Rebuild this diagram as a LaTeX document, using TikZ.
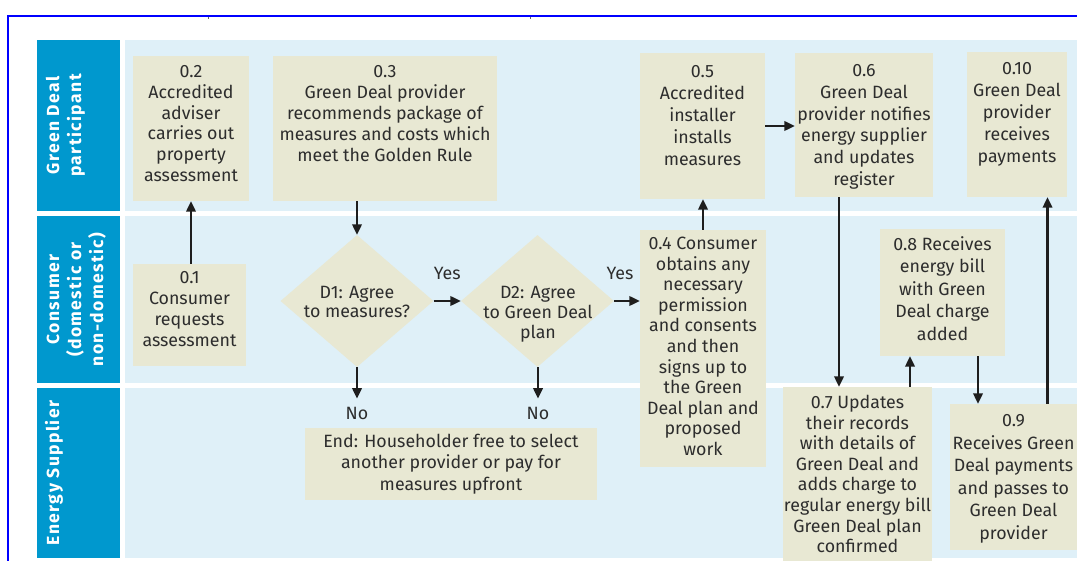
\documentclass[tikz,border=0pt]{standalone}
\usepackage{fontspec}
\setmainfont{Fira Sans}
\newfontfamily\lanefont[LetterSpace=8]{Fira Sans}
\usetikzlibrary{arrows.meta,shapes.geometric}
\definecolor{laneblue}{RGB}{0,152,206}
\definecolor{lanebg}{RGB}{223,240,248}
\definecolor{boxc}{RGB}{232,232,211}
\definecolor{txt}{RGB}{45,45,45}
\definecolor{arrc}{RGB}{30,30,30}
\definecolor{frameblue}{RGB}{0,0,255}
\newcommand\bxt[4]{\parbox[c][#2pt][t]{#1pt}{\centering\rule{0pt}{#3pt}#4}}
\newcommand\fs[1]{\fontsize{17.8}{#1}\selectfont}
\begin{document}
\begin{tikzpicture}[x=1pt,y=-1pt,
  lanelabel/.style={fill=laneblue,text=white,inner sep=0pt,rotate=90,font=\lanefont\bfseries\fontsize{17.5}{22}\selectfont},
  gdbox/.style={fill=boxc,text=txt,inner sep=0pt,font=\fs{20.8}},
  dia/.style={diamond,fill=boxc,inner sep=0pt,minimum width=153pt,minimum height=132pt},
  diatext/.style={text=txt,inner sep=0pt,anchor=base,font=\fs{19.5}},
  lbl/.style={text=txt,inner sep=0pt,font=\fs{20}},
  nolbl/.style={lbl,inner ysep=8pt},
  arr/.style={draw=arrc,line width=2.2pt,-{Triangle[length=10.5pt,width=9.5pt]}}]
\useasboundingbox (0,0) rectangle (1077,561);
% frame
\draw[frameblue,line width=2pt] (8,561) -- (8,16) -- (1077,16);
\draw[black!60,line width=1pt] (208,17) -- (208,19);
\draw[black!60,line width=1pt] (530,17) -- (530,19);
% lanes
\fill[lanebg] (125,40) rectangle (1077,211);
\fill[lanebg] (125,216) rectangle (1077,383);
\fill[lanebg] (125,388) rectangle (1077,558);
\node[lanelabel] (l1) at (78.5,125.5) {\bxt{171}{83}{22}{Green Deal\\participant}};
\node[lanelabel] (l2) at (78.5,299.5) {\bxt{167}{83}{22}{Consumer\\(domestic or\\non-domestic)}};
\node[lanelabel] (l3) at (78.5,473) {\bxt{170}{83}{22}{Energy Supplier}};
% boxes
\node[gdbox] (n02) at (191,128.5) {\bxt{116}{145}{21.5}{0.2\\Accredited\\adviser\\carries out\\property\\assessment}};
\node[gdbox,font=\fs{21}] (n03) at (385,128.5) {\bxt{224}{145}{21.5}{0.3\\Green Deal provider\\recommends package of\\measures and costs which\\meet the Golden Rule}};
\node[gdbox,font=\fs{22}] (n05) at (702.5,126) {\bxt{125}{146}{24.5}{0.5\\Accredited\\installer\\installs\\measures}};
\node[gdbox,font=\fs{21.8}] (n06) at (864,125) {\bxt{138}{144}{23.5}{0.6\\Green Deal\\provider notifies\\energy supplier\\and updates\\register}};
\node[gdbox,font=\fs{22}] (n10) at (1017,124.5) {\bxt{100}{145}{22.5}{0.10\\Green Deal\\provider\\receives\\payments}\hspace{20pt}};
\node[gdbox,font=\fs{21}] (n01) at (189.5,315) {\bxt{113}{102}{19.5}{0.1\\Consumer\\requests\\assessment}};
\node[gdbox,font=\fs{20.6}] (n04) at (703,348.5) {\bxt{126}{237}{19.5}{0.4 Consumer\\obtains any\\necessary\\permission\\and consents\\and then\\signs up to\\the Green\\Deal plan and\\proposed\\work}};
\node[gdbox,font=\fs{22.5}] (n08) at (942.5,292.5) {\bxt{125}{127}{21.5}{0.8 Receives\\energy bill\\with Green\\Deal charge\\added}};
\node[gdbox,font=\fs{20.6}] (n07) at (857.5,474) {\bxt{149}{174}{21.5}{0.7 Updates\\their records\\with details of\\Green Deal and\\adds charge to\\regular energy bill\\Green Deal plan\\confirmed}};
\node[gdbox,font=\fs{22.6}] (n09) at (1013.5,477) {\bxt{127}{146}{22.5}{0.9\\Receives Green\\Deal payments\\and passes to\\Green Deal\\provider}};
\node[gdbox,font=\fs{21.5}] (nend) at (451,464) {\bxt{292}{72}{19.5}{End: Householder free to select\\another provider or pay for\\measures upfront}};
% decisions
\node[dia] (d1) at (357,301) {};
\node[dia] (d2) at (537.5,301) {};
\node[diatext] (d1t) at (357,298.5) {\parbox[t]{130pt}{\centering D1: Agree\\to measures?}};
\node[diatext,font=\fs{20}] (d2t) at (538,298.5) {\parbox[t]{130pt}{\centering D2: Agree\\to Green Deal\\plan}};
\node[nolbl] (no1) at (357,413) {No};
\node[nolbl] (no2) at (538,413) {No};
% connectors
\draw[arr] ([xshift=1.5pt]n01.north) -- ([xshift=1.5pt]n01.north |- n02.south);
\draw[arr] (n03.south -| d1.north) -- (d1.north);
\draw[arr] (d1.east) -- node[lbl,above=20pt] (yes1) {Yes} (d2.west);
\draw[arr] (d2.east) -- node[lbl,above=20pt,xshift=-7pt] (yes2) {Yes} (d2.east -| n04.west);
\draw[arr] (d1.south) -- (no1.north);
\draw[arr] (d2.south -| no2.north) -- (no2.north);
\draw[arr] (n04.north) -- (n04.north |- n05.south);
\draw[arr] (n05.east) -- (n05.east -| n06.west);
\draw[arr] ([xshift=-25pt]n06.south) -- ([xshift=-25pt]n06.south |- n07.north);
\draw[arr] ([xshift=52.5pt]n07.north) -- ([xshift=52.5pt]n07.north |- n08.south);
\draw[arr] ([xshift=35.5pt]n08.south) -- ([xshift=35.5pt]n08.south |- n09.north);
\draw[arr] ([xshift=34pt]n09.north) -- ([xshift=34pt]n09.north |- n10.south);
\end{tikzpicture}
\end{document}
